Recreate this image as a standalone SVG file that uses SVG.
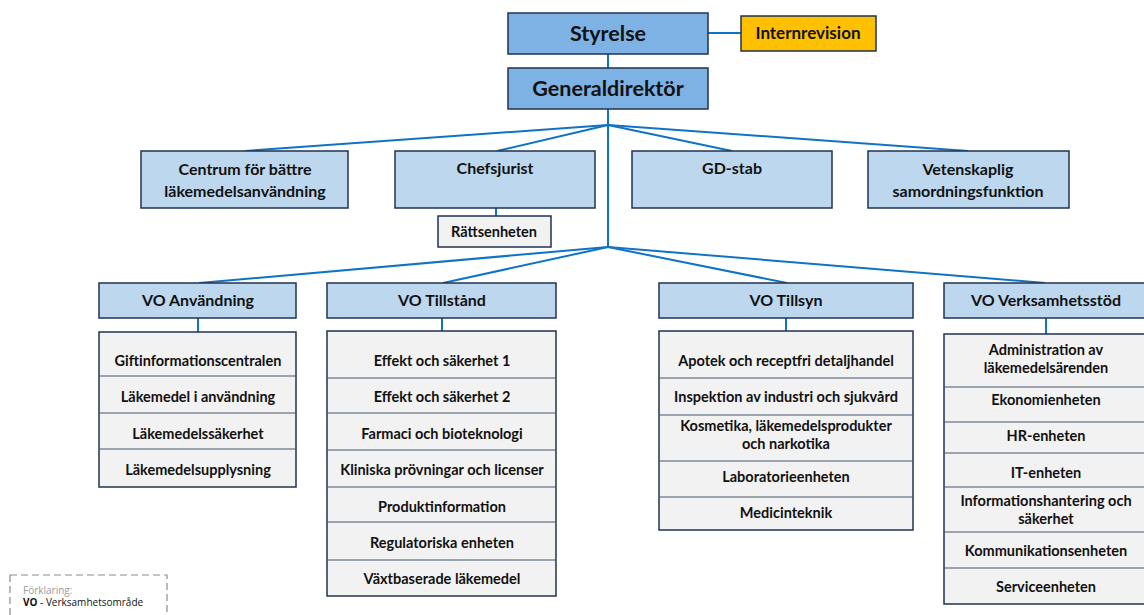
<svg xmlns="http://www.w3.org/2000/svg" width="1144" height="615" viewBox="0 0 1144 615">
<style>
.b1{fill:#7EB1E4;stroke:#1F3350;stroke-width:1.5}
.b2{fill:#BDD7EE;stroke:#1F3350;stroke-width:1.5}
.ir{fill:#FFC000;stroke:#1F3350;stroke-width:1.5}
.sb{fill:#F2F2F2;stroke:#1F3350;stroke-width:1.5}
.dv{stroke:#44546A;stroke-width:1}
.c{stroke:#1173C4;stroke-width:2;fill:none}
text{font-family:Lato,"Open Sans","Liberation Sans",sans-serif;font-weight:bold;fill:#111;text-anchor:middle}
.t1{font-size:21.5px}
.t2{font-size:16px}
.t3{font-size:14.5px}
.lg{font-family:"Open Sans","Liberation Sans",sans-serif;font-size:10px;text-anchor:start;font-weight:normal}
</style>
<g id="connectors">
<line class="c" x1="708" y1="33" x2="741" y2="33"/>
<line class="c" x1="608" y1="54" x2="608" y2="68"/>
<line class="c" x1="608" y1="109" x2="608" y2="248"/>
<line class="c" x1="608" y1="125" x2="245" y2="151"/>
<line class="c" x1="608" y1="125" x2="497" y2="151"/>
<line class="c" x1="608" y1="125" x2="732" y2="151"/>
<line class="c" x1="608" y1="125" x2="968" y2="151"/>
<line class="c" x1="496" y1="208" x2="496" y2="216"/>
<line class="c" x1="608" y1="247" x2="199" y2="283"/>
<line class="c" x1="608" y1="247" x2="443" y2="283"/>
<line class="c" x1="608" y1="247" x2="787" y2="283"/>
<line class="c" x1="608" y1="247" x2="1045" y2="283"/>
<line class="c" x1="198" y1="318" x2="198" y2="332"/>
<line class="c" x1="442" y1="318" x2="442" y2="331"/>
<line class="c" x1="786" y1="318" x2="786" y2="331"/>
<line class="c" x1="1046" y1="318" x2="1046" y2="334"/>
</g>
<g id="styrelse"><rect class="b1" x="508" y="13" width="200" height="41"/><text class="t1" x="608" y="41">Styrelse</text></g>
<g id="internrevision"><rect class="ir" x="741" y="16" width="135" height="35"/><text x="808" y="39" font-size="17">Internrevision</text></g>
<g id="generaldirektor"><rect class="b1" x="508" y="68" width="200" height="41"/><text class="t1" x="608" y="96">Generaldirektör</text></g>
<g id="centrum"><rect class="b2" x="141" y="151" width="207" height="57"/><text class="t2" x="245" y="175">Centrum för bättre</text><text class="t2" x="245" y="197">läkemedelsanvändning</text></g>
<g id="chefsjurist"><rect class="b2" x="395" y="151" width="200" height="57"/><text class="t2" x="495" y="174">Chefsjurist</text></g>
<g id="rattsenheten"><rect class="sb" x="438" y="216" width="113" height="31"/><text class="t3" x="494" y="237">Rättsenheten</text></g>
<g id="gdstab"><rect class="b2" x="632" y="151" width="200" height="57"/><text class="t2" x="732" y="174">GD-stab</text></g>
<g id="vetenskaplig"><rect class="b2" x="868" y="151" width="201" height="57"/><text class="t2" x="968" y="175">Vetenskaplig</text><text class="t2" x="968" y="197">samordningsfunktion</text></g>

<g id="vo-anvandning">
<rect class="b2" x="99" y="283" width="197" height="35"/><text class="t2" x="198" y="306">VO Användning</text>
<rect class="sb" x="99" y="332" width="197" height="155"/>
<line class="dv" x1="99" y1="376" x2="296" y2="376"/><line class="dv" x1="99" y1="413" x2="296" y2="413"/><line class="dv" x1="99" y1="449" x2="296" y2="449"/>
<text class="t3" x="198" y="366">Giftinformationscentralen</text>
<text class="t3" x="198" y="402">Läkemedel i användning</text>
<text class="t3" x="198" y="439">Läkemedelssäkerhet</text>
<text class="t3" x="198" y="475">Läkemedelsupplysning</text>
</g>

<g id="vo-tillstand">
<rect class="b2" x="327" y="283" width="229" height="35"/><text class="t2" x="442" y="306">VO Tillstånd</text>
<rect class="sb" x="327" y="331" width="229" height="265"/>
<line class="dv" x1="327" y1="378" x2="556" y2="378"/><line class="dv" x1="327" y1="413" x2="556" y2="413"/><line class="dv" x1="327" y1="450" x2="556" y2="450"/><line class="dv" x1="327" y1="487" x2="556" y2="487"/><line class="dv" x1="327" y1="522" x2="556" y2="522"/><line class="dv" x1="327" y1="560" x2="556" y2="560"/>
<text class="t3" x="442" y="366">Effekt och säkerhet 1</text>
<text class="t3" x="442" y="402">Effekt och säkerhet 2</text>
<text class="t3" x="442" y="439">Farmaci och bioteknologi</text>
<text class="t3" x="442" y="475">Kliniska prövningar och licenser</text>
<text class="t3" x="442" y="512">Produktinformation</text>
<text class="t3" x="442" y="548">Regulatoriska enheten</text>
<text class="t3" x="442" y="584">Växtbaserade läkemedel</text>
</g>

<g id="vo-tillsyn">
<rect class="b2" x="659" y="283" width="254" height="35"/><text class="t2" x="786" y="306">VO Tillsyn</text>
<rect class="sb" x="659" y="331" width="254" height="199"/>
<line class="dv" x1="659" y1="378" x2="913" y2="378"/><line class="dv" x1="659" y1="415" x2="913" y2="415"/><line class="dv" x1="659" y1="461" x2="913" y2="461"/><line class="dv" x1="659" y1="497" x2="913" y2="497"/>
<text class="t3" x="786" y="366">Apotek och receptfri detaljhandel</text>
<text class="t3" x="786" y="402">Inspektion av industri och sjukvård</text>
<text class="t3" x="786" y="431">Kosmetika, läkemedelsprodukter</text>
<text class="t3" x="786" y="449">och narkotika</text>
<text class="t3" x="786" y="482">Laboratorieenheten</text>
<text class="t3" x="786" y="518">Medicinteknik</text>
</g>

<g id="vo-verksamhetsstod">
<rect class="b2" x="944" y="283" width="204" height="35"/><text class="t2" x="1046" y="306">VO Verksamhetsstöd</text>
<rect class="sb" x="944" y="334" width="204" height="270"/>
<line class="dv" x1="944" y1="387" x2="1148" y2="387"/><line class="dv" x1="944" y1="422" x2="1148" y2="422"/><line class="dv" x1="944" y1="453" x2="1148" y2="453"/><line class="dv" x1="944" y1="487" x2="1148" y2="487"/><line class="dv" x1="944" y1="532" x2="1148" y2="532"/><line class="dv" x1="944" y1="568" x2="1148" y2="568"/>
<text class="t3" x="1046" y="355">Administration av</text>
<text class="t3" x="1046" y="373">läkemedelsärenden</text>
<text class="t3" x="1046" y="405">Ekonomienheten</text>
<text class="t3" x="1046" y="441">HR-enheten</text>
<text class="t3" x="1046" y="478">IT-enheten</text>
<text class="t3" x="1046" y="506">Informationshantering och</text>
<text class="t3" x="1046" y="524">säkerhet</text>
<text class="t3" x="1046" y="556">Kommunikationsenheten</text>
<text class="t3" x="1046" y="592">Serviceenheten</text>
</g>

<g id="legend">
<rect x="10" y="575" width="157" height="50" fill="none" stroke="#8C8C8C" stroke-width="1.2" stroke-dasharray="7,4"/>
<text class="lg" x="23" y="594" style="fill:#9A9A9A">Förklaring:</text>
<text class="lg" x="23" y="606"><tspan font-weight="bold">VO</tspan> - Verksamhetsområde</text>
</g>
</svg>
